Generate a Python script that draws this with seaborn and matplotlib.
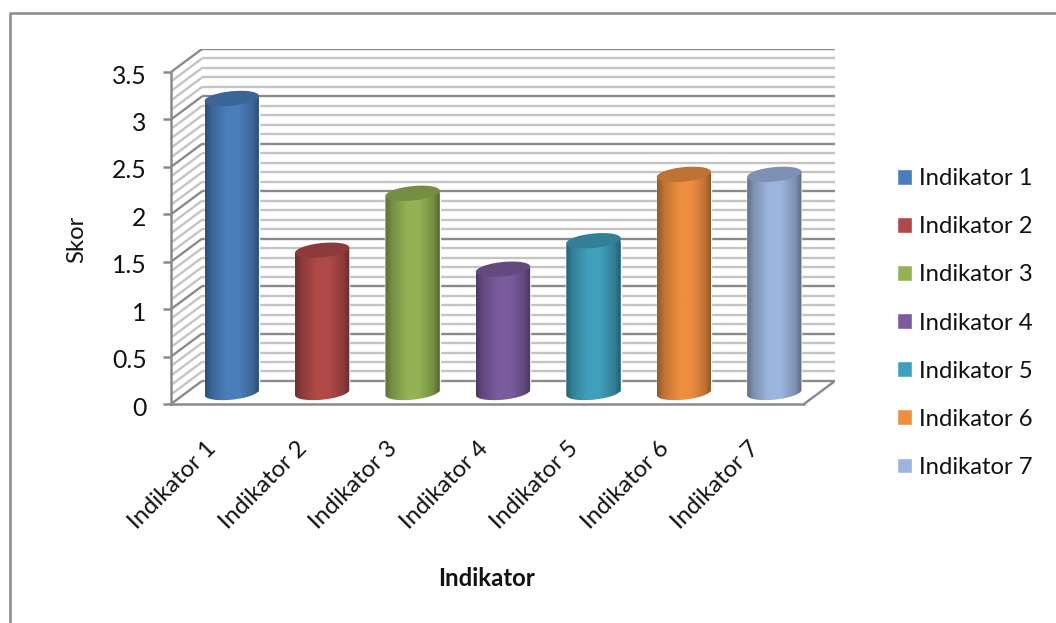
import numpy as np
import pandas as pd
import seaborn as sns
import matplotlib.pyplot as plt
from matplotlib.collections import LineCollection
from matplotlib.colors import to_rgb
from matplotlib.patches import Polygon
from matplotlib.transforms import ScaledTranslation

categories = ["Indikator 1", "Indikator 2", "Indikator 3", "Indikator 4",
              "Indikator 5", "Indikator 6", "Indikator 7"]
scores = [3.1, 1.5, 2.1, 1.3, 1.6, 2.3, 2.3]
colors = ["#4A7EBB", "#B04A48", "#93B255", "#7A5C9E", "#40A0BC", "#ED8E40", "#9DB5DE"]
y_ticks = [0, 0.5, 1, 1.5, 2, 2.5, 3, 3.5]
y_tick_labels = ["0", "0.5", "1", "1.5", "2", "2.5", "3", "3.5"]
x_title = "Indikator"
y_title = "Skor"

W, H, DPI = 1056, 623, 100
FONT = "Lato"
FS = 17.2

# Pseudo-3D box: the bars stand half way between the front plane and the back wall.
X_UNIT, Y_UNIT = 90.4, 94.7        # pixels per category / per score unit
DEPTH_X = 31 / X_UNIT
DEPTH_Y = 23 / Y_UNIT
X_FRONT_L = -0.5 - DEPTH_X / 2
X_FRONT_R = X_FRONT_L + len(categories)
Y_FRONT = -DEPTH_Y / 2
BAR_W = 0.6
ELL_B = 7.2 / Y_UNIT               # half height of a cylinder cap
ELL_K = 2.6 / Y_UNIT               # tilt of a cylinder cap

sns.set_style("white")
plt.rcParams["font.family"] = [FONT, "DejaVu Sans"]

fig = plt.figure(figsize=(W / DPI, H / DPI), dpi=DPI)
ax = fig.add_axes([171 / W, 1 - 404 / H, (835 - 171) / W, (404 - 49) / H])
ax.patch.set_alpha(0)

df = pd.DataFrame({"Indikator": categories, "Skor": scores})
sns.barplot(data=df, x="Indikator", y="Skor", hue="Indikator", hue_order=categories,
            order=categories, palette=colors, width=BAR_W, saturation=1,
            legend=True, ax=ax, zorder=3)

# Back wall and side wall grid lines
grid = np.round(np.arange(0, 3.51, 0.1), 1)
for level in grid:
    major = abs(level * 2 - round(level * 2)) < 1e-6
    color = "#8a8a8a" if major else "#c4c4c4"
    y_front = Y_FRONT + level
    y_back = y_front + DEPTH_Y
    segs = [[(X_FRONT_L, y_front), (X_FRONT_L + DEPTH_X, y_back)],
            [(X_FRONT_L + DEPTH_X, y_back), (X_FRONT_R + DEPTH_X, y_back)]]
    ax.add_collection(LineCollection(segs, colors=color, linewidths=1.7,
                                     zorder=2 if major else 1, capstyle="butt"), autolim=False)
# Floor edge on the right
floor = [[(X_FRONT_R, Y_FRONT), (X_FRONT_R + DEPTH_X, Y_FRONT + DEPTH_Y)]]
ax.add_collection(LineCollection(floor, colors="#8a8a8a", linewidths=1.7, zorder=2), autolim=False)


def cap_points(cx, level, half=False):
    """Tilted ellipse outline for a cylinder cap; half=True keeps the lower arc."""
    a = BAR_W / 2
    t = np.linspace(np.pi, 2 * np.pi, 60) if half else np.linspace(0, 2 * np.pi, 120)
    return np.column_stack([cx + a * np.cos(t),
                            level + ELL_B * np.sin(t) + ELL_K * np.cos(t)])


# Shade each bar as a cylinder, from its seaborn rectangle upward
shade_x = np.linspace(0, 1, 128)
shade = np.interp(shade_x, [0, 0.12, 0.4, 0.62, 0.88, 1], [0.62, 0.8, 1.0, 1.0, 0.8, 0.58])
for i, (value, color) in enumerate(zip(scores, colors)):
    base = np.array(to_rgb(color))
    left, right = i - BAR_W / 2, i + BAR_W / 2
    bottom_arc = cap_points(i, 0, half=True)
    top_edge = np.array([[right, value + ELL_K], [left, value - ELL_K]])
    outline = np.vstack([bottom_arc, top_edge, bottom_arc[:1]])
    img = ax.imshow((shade[None, :, None] * base[None, None, :]).clip(0, 1),
                    extent=(left, right, -ELL_B - ELL_K, value + ELL_B),
                    aspect="auto", zorder=4, interpolation="bilinear")
    img.set_clip_path(Polygon(outline, closed=True, transform=ax.transData))
    ax.add_patch(Polygon(cap_points(i, value), closed=True, facecolor=base * 0.8,
                         edgecolor="none", zorder=5))

ax.set_xlim(X_FRONT_L, X_FRONT_R + DEPTH_X)
ax.set_ylim(Y_FRONT, Y_FRONT + 3.5 + DEPTH_Y)

# Axes live on the front plane of the box
for side in ("top", "right"):
    ax.spines[side].set_visible(False)
for side in ("left", "bottom"):
    ax.spines[side].set_color("#8a8a8a")
    ax.spines[side].set_linewidth(1.8)
    ax.spines[side].set_zorder(2.5)
ax.spines["left"].set_bounds(Y_FRONT, Y_FRONT + 3.5)
ax.spines["bottom"].set_bounds(X_FRONT_L, X_FRONT_R)

ax.set_yticks([Y_FRONT + v for v in y_ticks], y_tick_labels, fontsize=FS + 0.6, color="#111111")
ax.tick_params(axis="y", left=True, length=5.5, width=1.8, color="#8a8a8a", pad=12)
ax.set_xticks(range(len(categories)), categories, fontsize=FS, color="#111111",
              rotation=45, ha="right", rotation_mode="anchor")
ax.tick_params(axis="x", bottom=False, pad=0)
x_shift = ScaledTranslation(-0.26, -0.29, fig.dpi_scale_trans)
for lab in ax.get_xticklabels():
    lab.set_transform(lab.get_transform() + x_shift)
y_shift = ScaledTranslation(0, -0.02, fig.dpi_scale_trans)
for lab in ax.get_yticklabels():
    lab.set_transform(lab.get_transform() + y_shift)

ax.set_xlabel("")
ax.set_ylabel("")
fig.text(77 / W, 1 - 239 / H, y_title, rotation=90, ha="center", va="center",
         fontsize=FS, color="#111111")
fig.text(487 / W, 1 - 578 / H, x_title, ha="center", va="center", fontsize=FS,
         fontweight="bold", color="#111111")

sns.move_legend(ax, "center left", bbox_to_anchor=(897 / W, 1 - 323 / H),
                bbox_transform=fig.transFigure, frameon=False, title=None,
                fontsize=FS, labelspacing=1.135, handlelength=0.64, handleheight=0.64,
                handletextpad=0.3, borderpad=0, borderaxespad=0)
for text in ax.get_legend().get_texts():
    text.set_color("#111111")

# Chart-area frame, open at the right and bottom edges
fig.add_artist(plt.Line2D([10 / W, 10 / W, 1.02], [-0.02, 1 - 13 / H, 1 - 13 / H],
                          transform=fig.transFigure, color="#8e8e8e", lw=1.9))

fig.savefig("out.png", dpi=DPI)
